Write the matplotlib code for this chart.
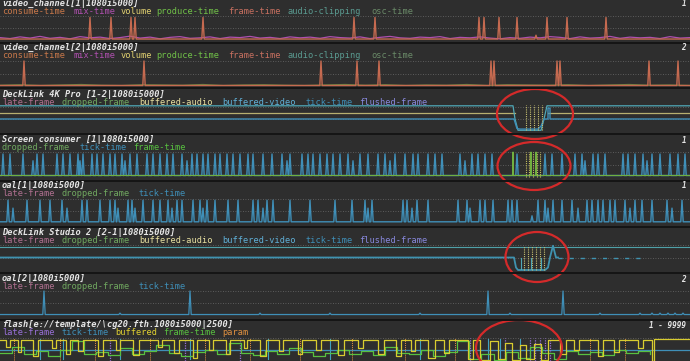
import numpy as np
import matplotlib.pyplot as plt
from matplotlib.patches import Ellipse

W, H = 690, 361
BG = "#2e2e2e"
SEP = "#151515"
GRID = "#6c6c6c"
TITLE = "#e6e6e6"
MONO = "DejaVu Sans Mono"
FS = 6.2
ADV = 5.95  # px per character in the reference legend rows

# legend colours
C_CONSUME = "#c8784a"
C_MIX = "#b050b0"
C_VOLUME = "#e0d070"
C_PRODUCE = "#70c048"
C_FRAME = "#c87060"
C_CLIP = "#5a9a90"
C_OSC = "#6a8a68"
C_LATE = "#b07090"
C_DROP = "#70a860"
C_BAUDIO = "#e8e0a0"
C_BVIDEO = "#60b0d8"
C_TICK = "#3f8fb8"
C_FLUSH = "#8888dd"
C_SFRAME = "#58c040"
C_FLATE = "#9870d8"
C_BUF = "#e0d030"
C_PARAM = "#e09040"

# ---- data ----
# video_channel[1]
ch1_x = [90, 111, 131, 135, 203, 354, 375, 479, 484, 499, 517, 536, 547, 567, 606]
ch1_h = [0.94, 0.94, 0.94, 0.94, 0.94, 0.94, 0.94, 0.94, 0.94, 0.94, 0.94, 0.2, 0.94, 0.94, 0.94]
ch1_mix = [0.10, 0.06, 0.13, 0.08, 0.15, 0.07, 0.11, 0.05, 0.14, 0.09,
           0.12, 0.06, 0.10, 0.16, 0.08, 0.12, 0.05, 0.11, 0.14, 0.07,
           0.09, 0.13, 0.06, 0.12, 0.10, 0.15, 0.08, 0.11, 0.06, 0.13,
           0.09, 0.12, 0.07, 0.14, 0.10, 0.08, 0.13, 0.06, 0.11, 0.15,
           0.09, 0.07, 0.12, 0.10, 0.14, 0.06, 0.11, 0.09, 0.13, 0.08,
           0.05, 0.10, 0.07, 0.12, 0.09, 0.14, 0.11, 0.06, 0.13, 0.08,
           0.10, 0.15, 0.07, 0.12, 0.09, 0.11, 0.06, 0.14, 0.08, 0.10]

# video_channel[2]
ch2_x = [24, 144, 321, 357, 379, 491, 494, 557, 560, 649, 678]
ch2_h = [1.0, 1.0, 1.0, 1.0, 1.0, 1.0, 1.0, 1.0, 1.0, 1.0, 1.0]
ch2_low = [0.03, 0.05, 0.02, 0.04, 0.06, 0.03, 0.02, 0.05, 0.04, 0.03,
           0.06, 0.02, 0.04, 0.05, 0.03, 0.02, 0.04, 0.06, 0.03, 0.05,
           0.02, 0.04, 0.03, 0.06, 0.02, 0.05, 0.04, 0.03, 0.05, 0.02,
           0.04, 0.06, 0.03, 0.04, 0.02]

# DeckLink 4K Pro
d4k_video_x = [0, 513, 515, 518, 541, 544, 547, 690]
d4k_video_y = [1.05, 1.05, 0.5, 0.03, 0.03, 0.5, 1.05, 1.05]
d4k_audio_x = [0, 515, 515, 548, 548, 690]
d4k_audio_y = [0.75, 0.75, np.nan, np.nan, 0.75, 0.75]
d4k_tick_x = [0, 514, 517, 520, 538, 541, 544, 548, 548, 550, 550, 690]
d4k_tick_y = [0.5, 0.5, 0.1, 0.08, 0.08, 0.2, 0.5, 0.5, 0.95, 0.95, 0.5, 0.5]
d4k_dots = [526, 530, 534, 538, 542]

# Screen consumer
sc_x = [3, 10, 23, 33, 37, 43, 57, 63, 70, 78, 80, 83, 92, 97, 103, 110, 115, 122,
        125, 130, 137, 147, 153, 160, 167, 173, 182, 187, 192, 197, 203, 208, 215,
        220, 227, 233, 240, 248, 253, 263, 272, 282, 287, 290, 302, 308, 313, 320,
        327, 333, 340, 348, 353, 360, 368, 378, 385, 390, 395, 405, 413, 418, 428,
        435, 442, 460, 465, 472, 478, 485, 492, 517, 545, 552, 562, 575, 582, 585,
        593, 598, 605, 623, 628, 635, 643, 647, 652, 660, 670, 678, 685]
sc_short = [33, 80, 125, 187, 287, 353, 390, 465, 585, 647]
sc_green = [513, 531, 536]
sc_dots = [526, 529, 533, 537, 540]

# oal[1]
oal1_x = [8, 13, 27, 40, 50, 62, 67, 82, 87, 100, 110, 115, 118, 128, 132, 135, 143,
          153, 160, 168, 172, 177, 182, 193, 200, 203, 207, 215, 228, 238, 253, 258,
          263, 267, 273, 290, 310, 335, 352, 365, 368, 372, 403, 407, 412, 417, 428,
          458, 467, 470, 480, 485, 493, 508, 512, 517, 532, 538, 545, 548, 553, 562,
          572, 578, 587, 592, 598, 603, 610, 615, 625, 630, 635, 642, 652, 667, 672, 682]
oal1_short = [13, 67, 118, 135, 172, 203, 263, 368, 412, 470, 548, 578, 630, 672]
oal1_tiny = [532]

# DeckLink Studio 2
s2_video_x = [0, 514, 516, 518, 545, 548, 550, 553, 556, 558]
s2_video_y = [0.5, 0.5, 0.1, 0.0, 0.0, 0.1, 0.5, 0.97, 0.5, 0.5]
s2_dash_x = [558, 640]
s2_dots = [524, 528, 532, 536, 540, 544]
s2_teal = [521, 531, 541]

# oal[2]
oal2_x = [44, 190, 488, 563]
oal2_h = [1.0, 1.0, 1.0, 1.0]
oal2_bump_x = [120, 260, 330, 420, 510, 600, 640, 652, 660, 668, 675, 683]

# flash
fl_yellow_x = [0, 6, 10, 18, 21, 33, 38, 52, 56, 66, 70, 78, 83, 98, 103, 116, 120, 133,
               139, 158, 162, 174, 179, 193, 197, 209, 213, 226, 230, 244, 247, 260, 266,
               279, 283, 298, 302, 316, 321, 338, 344, 358, 363, 378, 384, 396, 401, 411,
               415, 428, 435, 444, 449, 468, 473, 480, 490, 498, 505, 512, 520, 526, 534,
               541, 548, 560, 566, 574, 579, 598, 603, 614, 619, 638, 643, 652, 654, 690]
fl_yellow_y = [0.92, 0.6, 0.93, 0.4, 0.9, 0.2, 0.92, 0.55, 0.9, 0.3,
               0.93, 0.45, 0.91, 0.2, 0.92, 0.5, 0.9, 0.25, 0.93, 0.6,
               0.92, 0.35, 0.9, 0.15, 0.93, 0.5, 0.91, 0.3, 0.92, 0.55,
               0.93, 0.2, 0.9, 0.45, 0.92, 0.3, 0.93, 0.5, 0.9, 0.25,
               0.92, 0.55, 0.93, 0.3, 0.9, 0.2, 0.92, 0.45, 0.91, 0.15,
               0.93, 0.35, 0.92, 0.1, 0.9, 0.05, 0.85, 0.1, 0.8, 0.05,
               0.7, 0.1, 0.75, 0.05, 0.9, 0.3, 0.92, 0.5, 0.93, 0.2,
               0.92, 0.4, 0.9, 0.55, 0.93, 0.0, 0.97, 0.97]
fl_green = [0.35, 0.6, 0.3, 0.45, 0.2, 0.5, 0.85, 0.3, 0.4, 0.25,
            0.55, 0.3, 0.45, 0.7, 0.35, 0.2, 0.4, 0.5, 0.3, 0.8,
            0.35, 0.25, 0.45, 0.3, 0.55, 0.4, 0.2, 0.35, 0.5, 0.3,
            0.45, 0.25, 0.6, 0.35, 0.3, 0.5, 0.2, 0.4, 0.85, 0.1,
            0.3, 0.05, 0.4, 0.15, 0.6, 0.35, 0.1, 0.45, 0.3, 0.4,
            0.25, 0.5, 0.35, 0.45, 0.3]
fl_param_x = [14, 60, 95, 150, 205, 250, 300, 352, 405, 455, 590, 625]
fl_late_x = [110, 185, 240, 470, 505, 530, 535, 540, 545, 550]
fl_tick_x = [40, 63, 120, 190, 268, 330, 420, 488, 500, 520]

# ---- figure ----
fig = plt.figure(figsize=(W / 100, H / 100), dpi=100, facecolor=BG)


def panel(top, bottom):
    ax = fig.add_axes([0, 1 - bottom / H, 1, (bottom - top) / H])
    ax.set_xlim(0, W)
    ax.set_ylim(0, 1)
    ax.axis("off")
    for g in (0.5, 1.0):
        ax.axhline(g, color=GRID, lw=0.6, ls=(0, (1, 2)), zorder=0)
    return ax


def header(y, title, items, right=None):
    fig.text(2 / W, 1 - (y - 0.5) / H, title, color=TITLE, fontsize=FS, family=MONO,
             style="italic", weight="bold", va="center")
    n = 0
    for lab, col in items:
        fig.text((2 + n * ADV) / W, 1 - (y + 7.5) / H, lab, color=col, fontsize=FS,
                 family=MONO, va="center")
        n += len(lab)
    if right:
        fig.text(686 / W, 1 - y / H, right, color=TITLE, fontsize=FS - 0.7,
                 family=MONO, style="italic", weight="bold", va="center", ha="right")


def spikes(ax, pos, hts, color, base=0.04, w=1.2, lw=1.0):
    xs, ys = [0], [base]
    for p, h in sorted(zip(pos, hts)):
        xs += [p - w, p, p + w]
        ys += [base, h, base]
    xs.append(W)
    ys.append(base)
    ax.plot(xs, ys, color=color, lw=lw, clip_on=False)


def vdots(ax, xs, color, y0=0.0, y1=1.0, lw=0.8):
    for x in xs:
        ax.plot([x, x], [y0, y1], color=color, lw=lw, ls=(0, (1, 1)), clip_on=False)


ch_items = [("consume-time", C_CONSUME), ("mix-time", C_MIX), ("volume", C_VOLUME),
            ("produce-time", C_PRODUCE), ("frame-time", C_FRAME),
            ("audio-clipping", C_CLIP), ("osc-time", C_OSC)]
dl_items = [("late-frame", C_LATE), ("dropped-frame", C_DROP),
            ("buffered-audio", C_BAUDIO), ("buffered-video", C_BVIDEO),
            ("tick-time", C_TICK), ("flushed-frame", C_FLUSH)]
oal_items = [("late-frame", C_LATE), ("dropped-frame", C_DROP), ("tick-time", C_TICK)]

# 1 video_channel[1]
header(4, "video_channel[1|1080i5000]", ch_items, "1")
ax = panel(16, 40)
ax.plot(np.linspace(0, W, len(ch1_mix)), ch1_mix, color=C_MIX, lw=0.9)
spikes(ax, ch1_x, ch1_h, "#c66a50")

# 2 video_channel[2]
header(48, "video_channel[2|1080i5000]", ch_items, "2")
ax = panel(61, 86)
ax.plot(np.linspace(0, W, len(ch2_low)), ch2_low, color="#6a8040", lw=0.9)
spikes(ax, ch2_x, ch2_h, "#c66a50", base=0.02)

# 3 DeckLink 4K Pro
header(95, "DeckLink 4K Pro [1-2|1080i5000]", dl_items)
ax = panel(107, 131)
ax.plot(d4k_audio_x, d4k_audio_y, color="#b8b070", lw=0.9, clip_on=False)
ax.plot(d4k_video_x, d4k_video_y, color="#4fa8b8", lw=0.9, clip_on=False)
ax.plot(d4k_tick_x, d4k_tick_y, color=C_TICK, lw=1.0, clip_on=False)
vdots(ax, d4k_dots, "#c8c070", 0.05, 1.1)

# 4 Screen consumer
header(140, "Screen consumer [1|1080i5000]",
       [("dropped-frame", C_DROP), ("tick-time", C_TICK), ("frame-time", C_SFRAME)], "1")
ax = panel(152, 177)
spikes(ax, sc_x, [0.65 if x in sc_short else 0.92 for x in sc_x], C_TICK, base=0.06)
spikes(ax, sc_green, [1.0, 1.0, 1.0], "#70b040", base=0.06, w=0.5, lw=0.8)
vdots(ax, sc_dots, "#c8c060", 0.0, 1.0)

# 5 oal[1]
header(186, "oal[1|1080i5000]", oal_items, "1")
ax = panel(199, 223)
spikes(ax, oal1_x,
       [0.3 if x in oal1_tiny else 0.62 if x in oal1_short else 0.95 for x in oal1_x],
       C_TICK, base=0.05)

# 6 DeckLink Studio 2
header(233, "DeckLink Studio 2 [2-1|1080i5000]", dl_items)
ax = panel(245, 270)
ax.plot([0, W], [0.93, 0.93], color="#4fa0a8", lw=0.8)
ax.plot(s2_video_x, s2_video_y, color="#3f93b0", lw=1.3, clip_on=False)
ax.plot(s2_dash_x, [0.5, 0.5], color="#3f93b0", lw=1.0, ls=(0, (3, 5)))
vdots(ax, s2_dots, "#c8c070", 0.0, 0.95)
for x in s2_teal:
    ax.plot([x, x], [0.0, 0.5], color="#4fa8b8", lw=0.8)

# 7 oal[2]
header(279, "oal[2|1080i5000]", oal_items, "2")
ax = panel(291, 315)
spikes(ax, oal2_x + oal2_bump_x, oal2_h + [0.08] * len(oal2_bump_x), C_TICK,
       base=0.02, lw=0.9)

# 8 flash
header(325, "flash[e://template/\\cg20.fth.1080i5000|2500]",
       [("late-frame", C_FLATE), ("tick-time", C_TICK), ("buffered", C_BUF),
        ("frame-time", C_SFRAME), ("param", C_PARAM)], "1 - 9999")
ax = panel(338, 361)
ax.axhline(0.5, color=C_TICK, lw=0.9)
vdots(ax, fl_param_x, C_PARAM, 0.0, 1.0, lw=0.7)
vdots(ax, fl_late_x, C_FLATE, 0.0, 1.0, lw=0.9)
for x in fl_tick_x:
    ax.plot([x, x], [0.1, 0.95], color="#40a0c0", lw=0.8)
ax.plot(np.linspace(0, 650, len(fl_green)), fl_green, color=C_SFRAME, lw=0.9,
        drawstyle="steps-post")
ax.plot(fl_yellow_x, fl_yellow_y, color="#d8cc30", lw=0.9, drawstyle="steps-post",
        clip_on=False)

# separators and red marks
ov = fig.add_axes([0, 0, 1, 1])
ov.set_xlim(0, W)
ov.set_ylim(H, 0)
ov.axis("off")
ov.patch.set_alpha(0)
for y in [42.5, 88, 133.5, 181, 226.5, 273, 320]:
    ov.axhline(y, color=SEP, lw=1.4)
for cx, cy, ew, eh in [(535, 114, 76, 50), (534, 166, 73, 48),
                       (537, 257, 63, 50), (519, 348, 86, 56)]:
    ov.add_patch(Ellipse((cx, cy), ew, eh, fill=False, ec="#d42a2a", lw=1.6))

fig.savefig("out.png", dpi=100, facecolor=BG)
